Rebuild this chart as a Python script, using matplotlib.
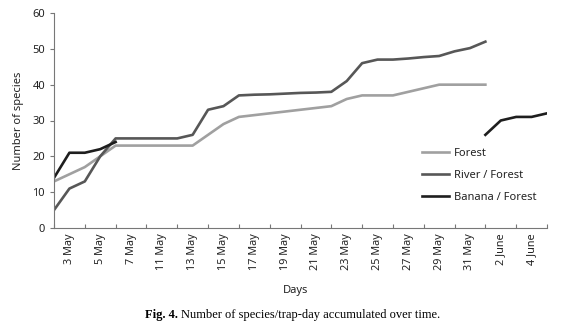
import numpy as np
import matplotlib
matplotlib.use("Agg")
import matplotlib.pyplot as plt

# dados (um ponto por dia, rótulo a cada dois)
day_labels = ["3 May", "5 May", "7 May", "11 May", "13 May", "15 May", "17 May",
              "19 May", "21 May", "23 May", "25 May", "27 May", "29 May", "31 May",
              "2 June", "4 June"]

forest = [13, 15, 17, 20, 23, 23, 23, 23, 23, 23, 26, 29, 31, 31.5, 32, 32.5, 33,
          33.5, 34, 36, 37, 37, 37, 38, 39, 40, 40, 40, 40]
river_forest = [5, 11, 13, 20, 25, 25, 25, 25, 25, 26, 33, 34, 37, 37.2, 37.3, 37.5,
                37.7, 37.8, 38, 41, 46, 47, 47, 47.3, 47.7, 48, 49.3, 50.2, 52]
banana_forest = [14, 21, 21, 22, 24] + [np.nan] * 23 + [26, 30, 31, 31, 32]

plt.rcParams['font.family'] = ['Noto Sans', 'DejaVu Sans']

fig = plt.figure(figsize=(5.68, 3.30), dpi=100)
ax = fig.add_axes([54/568, 1 - 228/330, 493/568, 215/330])

ax.plot(range(len(forest)), forest, color="#a0a0a0", lw=1.9, label="Forest")
ax.plot(range(len(river_forest)), river_forest, color="#575757", lw=1.9, label="River / Forest")
ax.plot(range(len(banana_forest)), banana_forest, color="#1e1e1e", lw=1.9, label="Banana / Forest")

ax.set_xlim(0, 32)
ax.set_ylim(0, 60)
ax.set_yticks(range(0, 61, 10))

# marcas nos pares, rótulos nos ímpares (eixo de categorias)
ax.set_xticks(range(0, 33, 2))
ax.set_xticklabels([])
ax.set_xticks(range(1, 32, 2), minor=True)
ax.set_xticklabels(day_labels, minor=True, rotation=90, fontsize=7.8, color="#222222")
ax.tick_params(axis="x", which="major", direction="in", length=3, color="#777777")
ax.tick_params(axis="x", which="minor", length=0, pad=4)
ax.tick_params(axis="y", direction="out", length=3, color="#777777", labelsize=8, labelcolor="#222222")

for s in ["top", "right"]:
    ax.spines[s].set_visible(False)
for s in ["left", "bottom"]:
    ax.spines[s].set_color("#777777")
    ax.spines[s].set_linewidth(0.8)

ax.set_ylabel("Number of species", fontsize=8, color="#222222", labelpad=6)
fig.text(0.5 + 0.02, 1 - 290/330, "Days", ha="center", va="center", fontsize=8, color="#222222")

ax.legend(loc="upper left", bbox_to_anchor=(0.735, 0.40), frameon=False, fontsize=8,
          handlelength=2.4, handletextpad=0.5, labelspacing=1.0, borderpad=0,
          labelcolor="#222222")

# legenda da figura: parte em negrito + resto
cap_y = 1 - 315/330
t1 = fig.text(145/568, cap_y, "Fig. 4.", ha="left", va="center", fontsize=9,
              weight="bold", family="Liberation Serif")
fig.canvas.draw()
bb = t1.get_window_extent()
fig.text((bb.x1 + 3) / 568, cap_y, "Number of species/trap-day accumulated over time.",
         ha="left", va="center", fontsize=9, family="Liberation Serif")

fig.savefig("out.png", dpi=100)
